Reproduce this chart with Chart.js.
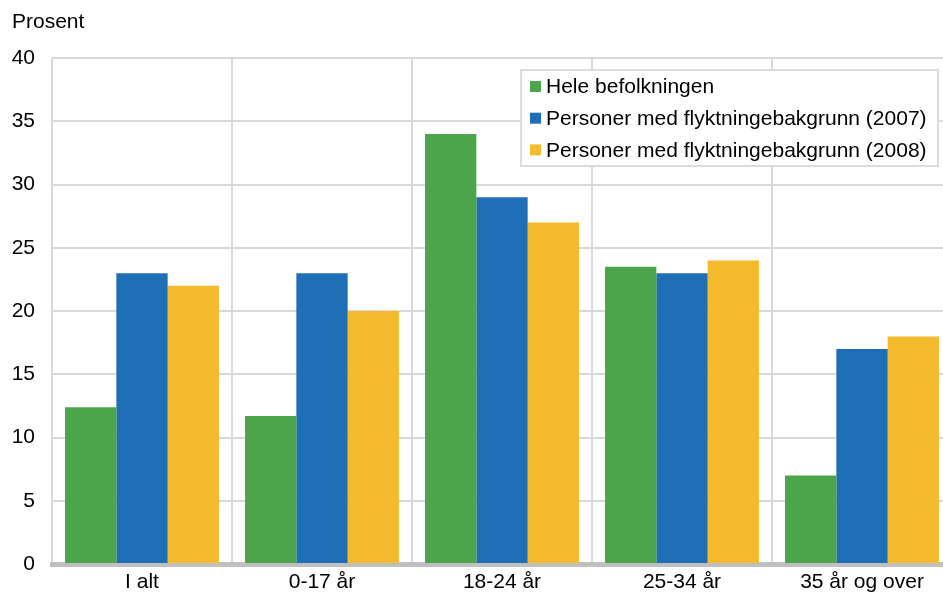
<!DOCTYPE html>
<html>
<head>
<meta charset="utf-8">
<script src="https://cdn.jsdelivr.net/npm/chart.js@4/dist/chart.umd.min.js"></script>
<style>
  html, body { margin: 0; padding: 0; background: #fff; overflow: hidden; }
  #wrap { position: absolute; left: 0; top: 0; width: 952px; height: 592px; }
</style>
</head>
<body>
<div id="wrap"><canvas id="flyktChart"></canvas></div>
<script>
'use strict'
const categories = ['I alt', '0-17 år', '18-24 år', '25-34 år', '35 år og over'];
const seriesNames = ['Hele befolkningen', 'Personer med flyktningebakgrunn (2007)', 'Personer med flyktningebakgrunn (2008)'];
const heleBefolkningen = [12.4, 11.7, 34, 23.5, 7];
const flyktning2007 = [23, 23, 29, 23, 17];
const flyktning2008 = [22, 20, 27, 24, 18];
const yTicks = [0, 5, 10, 15, 20, 25, 30, 35, 40];

const colors = ['#4ca54a', '#1f6fb6', '#f4bc2c'];
const fontFamily = '"Liberation Sans", Arial, sans-serif';

// legend box drawn inside the plot area
const boxLegend = {
  id: 'boxLegend',
  afterDraw(chart) {
    const ctx = chart.ctx;
    ctx.save();
    ctx.fillStyle = '#fff';
    ctx.fillRect(521, 70, 417, 96);
    ctx.strokeStyle = '#dcdcdc';
    ctx.lineWidth = 2;
    ctx.strokeRect(521, 70, 417, 96);
    ctx.font = '21px ' + fontFamily;
    ctx.textBaseline = 'middle';
    chart.data.datasets.forEach((ds, i) => {
      const y = 86.5 + i * 31.7;
      ctx.fillStyle = ds.backgroundColor;
      ctx.fillRect(530, y - 5.5, 11, 11);
      ctx.fillStyle = '#000';
      ctx.fillText(ds.label, 546, y + 1);
    });
    ctx.restore();
  }
};

const data = {
  labels: categories,
  datasets: [
    { label: seriesNames[0], data: heleBefolkningen, backgroundColor: colors[0] },
    { label: seriesNames[1], data: flyktning2007, backgroundColor: colors[1] },
    { label: seriesNames[2], data: flyktning2008, backgroundColor: colors[2] },
  ],
};

const options = {
  animation: false,
  maintainAspectRatio: false,
  responsive: true,
  layout: { padding: { left: 12, right: 0, top: 0, bottom: 0 } },
  datasets: {
    bar: { barPercentage: 1, categoryPercentage: 0.855, borderWidth: 0 },
  },
  plugins: {
    legend: { display: false },
    tooltip: { enabled: false },
    title: {
      display: true,
      text: 'Prosent',
      align: 'start',
      color: '#000',
      padding: { top: 10, bottom: 23 },
      font: { family: fontFamily, size: 21, weight: 'normal' },
    },
  },
  scales: {
    x: {
      grid: { color: '#d9d9d9', lineWidth: 2, drawTicks: false, offset: true },
      border: { display: true, color: '#bfbfc1', width: 5 },
      ticks: { color: '#000', padding: 6, font: { family: fontFamily, size: 21 } },
      afterFit(scale) { scale.height = 28; },
    },
    y: {
      min: 0,
      max: 40,
      afterBuildTicks(scale) { scale.ticks = yTicks.map(v => ({ value: v })); },
      grid: { color: '#d9d9d9', lineWidth: 2, drawTicks: false },
      border: { display: false },
      ticks: { color: '#000', padding: 17, font: { family: fontFamily, size: 21, lineHeight: 1 } },
      afterFit(scale) { scale.width = 40; },
    },
  },
};

const flyktChart = new Chart(document.getElementById('flyktChart').getContext('2d'), {
  type: 'bar',
  data: data,
  options: options,
  plugins: [boxLegend],
});
</script>
</body>
</html>
